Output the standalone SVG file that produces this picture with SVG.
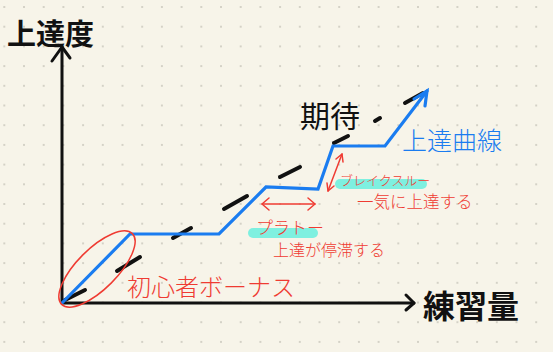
<svg xmlns="http://www.w3.org/2000/svg" width="553" height="352" viewBox="0 0 553 352">
<defs>
<pattern id="dots" x="4.3" y="7" width="19.7" height="19.7" patternUnits="userSpaceOnUse">
<circle cx="0" cy="0" r="1" fill="#c9c6bb"/>
<circle cx="19.7" cy="0" r="1" fill="#c9c6bb"/>
<circle cx="0" cy="19.7" r="1" fill="#c9c6bb"/>
<circle cx="19.7" cy="19.7" r="1" fill="#c9c6bb"/>
</pattern>
<style>
.axis{stroke:#111;stroke-width:3;fill:none;stroke-linecap:round;stroke-linejoin:round}
.dash{stroke:#111;stroke-width:4;stroke-linecap:round}
.blue{stroke:#1a7cf0;stroke-width:3.2;fill:none;stroke-linejoin:miter;stroke-linecap:round}
.red{stroke:#ef3b32;stroke-width:1.5;fill:none;stroke-linecap:round;stroke-linejoin:round}
.hl{fill:#7ef0e0}
.jp{font-family:"Noto Sans CJK JP","Noto Sans CJK SC",sans-serif}
.blk{fill:#111;font-weight:700}
.rt{fill:#ef3b32;font-weight:300}
.bt{fill:#1a7cf0;font-weight:300}
</style>
</defs>
<rect width="553" height="352" fill="#f7f4e9"/>
<rect width="553" height="352" fill="url(#dots)"/>

<g id="axes">
<polyline class="axis" points="62,47 62,303 414,303"/>
<polyline class="axis" points="52,61 62,47 70,58"/>
<polyline class="axis" points="406,295 414,303 406,310"/>
</g>

<g id="expectation">
<line class="dash" x1="65" y1="300" x2="85" y2="290"/>
<line class="dash" x1="117" y1="271" x2="140" y2="257"/>
<line class="dash" x1="173" y1="238" x2="191" y2="228"/>
<line class="dash" x1="224" y1="209" x2="247" y2="196"/>
<line class="dash" x1="280" y1="177" x2="300" y2="167"/>
<line class="dash" x1="334" y1="143" x2="348" y2="136"/>
<line class="dash" x1="375" y1="121" x2="380" y2="118"/>
<line class="dash" x1="405" y1="103" x2="423" y2="93"/>
</g>

<g id="curve">
<polyline class="blue" points="62,303 130,234 219,234 266,187 318,189 333,146 385,146 427,91"/>
<polyline class="blue" points="414,99 427,91 425,106"/>
</g>

<g id="beginner">
<ellipse class="red" cx="97" cy="269" rx="50" ry="20" transform="rotate(-45 97 269)"/>
<text class="jp rt" x="127" y="296" font-size="24">初心者ボーナス</text>
</g>

<g id="plateau">
<rect class="hl" x="248" y="228" width="70" height="10" rx="5"/>
<line class="red" x1="262" y1="204" x2="315" y2="204"/>
<polyline class="red" points="269,198 262,204 269,210"/>
<polyline class="red" points="308,198 315,204 308,210"/>
<text class="jp rt" x="256" y="234" font-size="17">プラトー</text>
<text class="jp rt" x="273" y="256" font-size="16">上達が停滞する</text>
</g>

<g id="breakthrough">
<rect class="hl" x="335" y="179" width="92" height="10" rx="5"/>
<line class="red" x1="342" y1="154" x2="328" y2="191"/>
<polyline class="red" points="336,159 342,154 343,162"/>
<polyline class="red" points="327,183 328,191 334,186"/>
<text class="jp rt" x="340" y="185" font-size="13">ブレイクスルー</text>
<text class="jp rt" x="357" y="208" font-size="16.5">一気に上達する</text>
</g>

<g id="labels">
<text class="jp blk" x="7" y="45" font-size="29">上達度</text>
<text class="jp blk" x="423" y="318" font-size="32">練習量</text>
<text class="jp" x="300" y="127" font-size="30" fill="#111">期待</text>
<text class="jp bt" x="402" y="150" font-size="25">上達曲線</text>
</g>
</svg>
